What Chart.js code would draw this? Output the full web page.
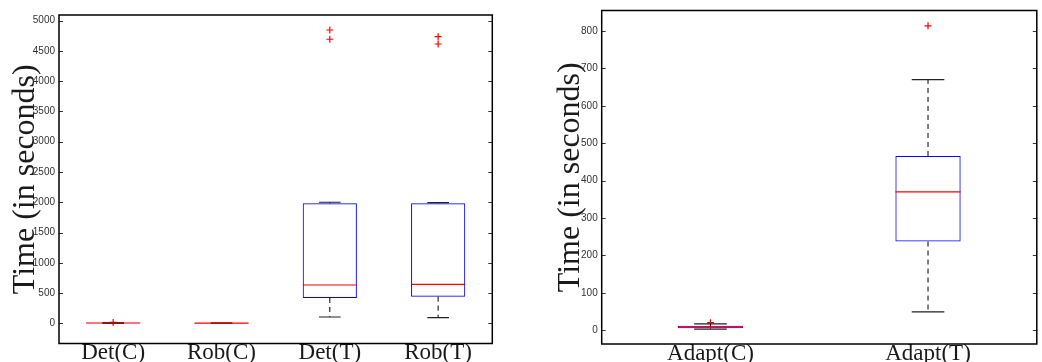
<!DOCTYPE html>
<html>
<head>
<meta charset="utf-8">
<script src="https://cdn.jsdelivr.net/npm/chart.js@4.4.1/dist/chart.umd.min.js"></script>
<style>
  html, body { margin: 0; padding: 0; background: #ffffff; }
  body { width: 1042px; height: 362px; position: relative; overflow: hidden; }
  canvas { position: absolute; top: 0; }
</style>
</head>
<body>
<canvas id="left" width="521" height="362" style="left:0px;width:521px;height:362px"></canvas>
<canvas id="right" width="502" height="362" style="left:540px;width:502px;height:362px"></canvas>
<script>
// ---- Left panel data ----
const catsL  = ['Det(C)', 'Rob(C)', 'Det(T)', 'Rob(T)'];
const lowL   = [0, 0, 104, 93];
const q1L    = [2, 1, 418, 440];
const medL   = [5, 3, 633, 644];
const q3L    = [8, 5, 1983, 1983];
const highL  = [12, 8, 2000, 1995];
const outL   = [[15], [], [4846, 4693], [4736, 4615]];
const ticksL = [0, 500, 1000, 1500, 2000, 2500, 3000, 3500, 4000, 4500, 5000];

// ---- Right panel data ----
const catsR  = ['Adapt(C)', 'Adapt(T)'];
const lowR   = [3, 49];
const q1R    = [5, 237];
const medR   = [8, 370];
const q3R    = [12, 466];
const highR  = [17, 670];
const outR   = [[20], [814]];
const ticksR = [0, 100, 200, 300, 400, 500, 600, 700, 800];

const yTitle = 'Time (in seconds)';

const boxPlugin = {
  id: 'boxextras',
  afterDatasetsDraw(chart, args, opts) {
    const ctx = chart.ctx, x = chart.scales.x, y = chart.scales.y;
    const catW = x.getPixelForValue(1) - x.getPixelForValue(0);
    const capHalf = catW * opts.capFrac / 2;
    const boxHalf = catW * opts.boxFrac / 2;
    ctx.save();
    for (let i = 0; i < opts.low.length; i++) {
      const xc = x.getPixelForValue(i);
      ctx.strokeStyle = '#000';
      ctx.lineWidth = 1;
      ctx.setLineDash([5, 4]);
      ctx.beginPath();
      ctx.moveTo(xc, y.getPixelForValue(opts.q3[i]));
      ctx.lineTo(xc, y.getPixelForValue(opts.high[i]));
      ctx.moveTo(xc, y.getPixelForValue(opts.q1[i]));
      ctx.lineTo(xc, y.getPixelForValue(opts.low[i]));
      ctx.stroke();
      ctx.setLineDash([]);
      ctx.strokeStyle = '#222';
      ctx.lineWidth = 1.2;
      ctx.beginPath();
      const yh = y.getPixelForValue(opts.high[i]);
      const yl = y.getPixelForValue(opts.low[i]);
      ctx.moveTo(xc - capHalf, yh); ctx.lineTo(xc + capHalf, yh);
      ctx.moveTo(xc - capHalf, yl); ctx.lineTo(xc + capHalf, yl);
      ctx.stroke();
      ctx.strokeStyle = '#ff0000';
      ctx.lineWidth = 1.2;
      ctx.beginPath();
      const ym = y.getPixelForValue(opts.med[i]);
      ctx.moveTo(xc - boxHalf, ym); ctx.lineTo(xc + boxHalf, ym);
      ctx.stroke();
    }
    ctx.restore();
  },
  afterDraw(chart) {
    const ctx = chart.ctx, a = chart.chartArea, y = chart.scales.y;
    ctx.save();
    ctx.strokeStyle = '#333';
    ctx.lineWidth = 1;
    ctx.beginPath();
    y.ticks.forEach(t => {
      const py = Math.round(y.getPixelForValue(t.value)) + 0.5;
      ctx.moveTo(a.left, py); ctx.lineTo(a.left + 4, py);
      ctx.moveTo(a.right, py); ctx.lineTo(a.right - 4, py);
    });
    ctx.stroke();
    ctx.strokeStyle = '#000';
    ctx.lineWidth = 1.5;
    ctx.strokeRect(a.left, a.top, a.right - a.left, a.bottom - a.top);
    ctx.restore();
  }
};

function makeChart(id, cats, low, q1, med, q3, high, outs, yTicks, cfg) {
  const outPts = [];
  outs.forEach((arr, i) => arr.forEach(v => outPts.push({ x: cats[i], y: v })));
  return new Chart(document.getElementById(id), {
    type: 'bar',
    data: {
      labels: cats,
      datasets: [
        {
          data: cats.map((c, i) => [q1[i], q3[i]]),
          backgroundColor: 'rgba(0,0,0,0)',
          borderColor: '#0000ff',
          borderWidth: 1,
          borderSkipped: false,
          barPercentage: cfg.boxFrac,
          categoryPercentage: 1.0
        },
        {
          type: 'line',
          data: outPts,
          showLine: false,
          pointStyle: 'cross',
          pointRadius: 3.5,
          pointBorderColor: '#ff0000',
          pointBorderWidth: 1.2,
          borderColor: '#ff0000'
        }
      ]
    },
    options: {
      responsive: false,
      animation: false,
      devicePixelRatio: 1,
      layout: { padding: cfg.padding },
      plugins: {
        legend: { display: false },
        tooltip: { enabled: false },
        boxextras: { low, q1, med, q3, high, capFrac: cfg.capFrac, boxFrac: cfg.boxFrac }
      },
      scales: {
        x: {
          offset: true,
          grid: { display: false, drawTicks: false },
          border: { display: false },
          ticks: {
            padding: cfg.xPad,
            color: '#1a1a1a',
            font: { family: 'Liberation Serif', size: 23 },
            maxRotation: 0, autoSkip: false
          },
          afterFit(s) { s.height = cfg.xHeight; }
        },
        y: {
          min: cfg.yMin,
          max: cfg.yMax,
          grid: { display: false, drawTicks: false },
          border: { display: false },
          afterBuildTicks(s) { s.ticks = yTicks.map(v => ({ value: v })); },
          ticks: {
            padding: 4,
            color: '#333',
            font: { family: 'Liberation Sans', size: 10 },
            callback: (v) => String(v)
          },
          title: {
            display: true,
            text: yTitle,
            color: '#1a1a1a',
            font: { family: 'Liberation Serif', size: 32 },
            padding: { top: cfg.titlePad, bottom: 0 }
          },
          afterFit(s) { s.width = cfg.yWidth; }
        }
      }
    },
    plugins: [boxPlugin]
  });
}

makeChart('left', catsL, lowL, q1L, medL, q3L, highL, outL, ticksL, {
  yMin: -334, yMax: 5094,
  padding: { top: 15, right: 28.7, bottom: 0, left: 0 },
  yWidth: 59, xHeight: 18.5, titlePad: 6, xPad: -4,
  boxFrac: 0.5, capFrac: 0.2
});

makeChart('right', catsR, lowR, q1R, medR, q3R, highR, outR, ticksR, {
  yMin: -37, yMax: 855,
  padding: { top: 10.5, right: 1, bottom: 0, left: 0 },
  yWidth: 61.7, xHeight: 18, titlePad: 11, xPad: -4,
  boxFrac: 0.3, capFrac: 0.15
});
</script>
</body>
</html>
